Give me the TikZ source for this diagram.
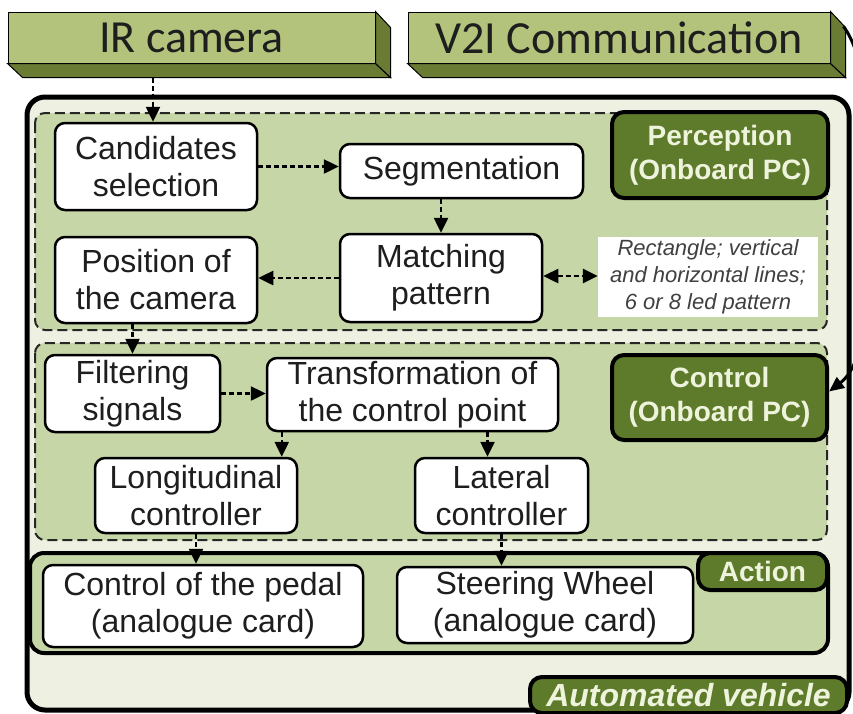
\documentclass[tikz,border=0pt]{standalone}
\usepackage{fontspec}
\setmainfont{Liberation Sans}
\newfontfamily\calib{Carlito}
\usetikzlibrary{arrows.meta}
\definecolor{pale}{HTML}{EEF1E1}
\definecolor{region}{HTML}{C6D6A6}
\definecolor{lbl}{HTML}{5E7A2B}
\definecolor{lbltext}{HTML}{EEF3DC}
\definecolor{frontc}{HTML}{B3C37B}
\definecolor{sidec}{HTML}{6A7B33}
\definecolor{ink}{HTML}{1E1E1E}
\begin{document}
\begin{tikzpicture}[x=1pt,y=-1pt,
  wbox/.style={draw=black, line width=2.5pt, fill=white, rounded corners=10pt,
    align=center, font=\fontsize{32}{37}\selectfont, inner sep=0pt, text=ink},
  lab/.style={draw=black, line width=4pt, fill=lbl, rounded corners=12pt,
    align=center, text=lbltext, font=\fontsize{28}{34}\bfseries\selectfont, inner sep=0pt},
  zone/.style={draw=black!85, line width=2pt, dash pattern=on 10pt off 5pt,
    rounded corners=10pt, fill=region},
  slab/.style={draw=black, line width=1pt, fill=frontc, inner sep=0pt,
    font=\calib\fontsize{46}{50}\selectfont, text=ink},
  slabside/.style={draw=black, line width=1pt, fill=sidec},
  arr/.style={dash pattern=on 5pt off 3pt, line width=2.5pt,
    -{Triangle[length=15pt,width=14pt]}},
  arrtwo/.style={dash pattern=on 5pt off 3pt, line width=2.5pt,
    {Triangle[length=15pt,width=14pt]}-{Triangle[length=15pt,width=14pt]}}
]
\useasboundingbox (0,0) rectangle (853,713);

% top 3D slabs
\node[slab, minimum width=367pt, minimum height=51pt] (ir) at (191.5,37.5) {IR camera};
\draw[slabside] (ir.south west) -- (ir.south east) -- ++(15,14) -- ([shift={(15,14)}]ir.south west) -- cycle;
\draw[slabside] (ir.north east) -- ++(15,16) -- ([shift={(15,14)}]ir.south east) -- (ir.south east) -- cycle;

\node[slab, minimum width=422pt, minimum height=51pt] (v2i) at (619,37.5) {V2I Communication};
\draw[slabside] (v2i.south west) -- (v2i.south east) -- ++(15,14) -- ([shift={(15,14)}]v2i.south west) -- cycle;
\draw[slabside] (v2i.north east) -- ++(15,16) -- ([shift={(15,14)}]v2i.south east) -- (v2i.south east) -- cycle;

% outer vehicle frame
\draw[line width=5pt, rounded corners=18pt, fill=pale] (27,97) rectangle (849,710);

% regions
\draw[zone] (35,113) rectangle (827,330);
\draw[zone] (35,343) rectangle (827,540);
\draw[line width=4pt, rounded corners=14pt, fill=region] (30,553) rectangle (828,653);

% labels
\node[lab, minimum width=216pt, minimum height=86pt] (percl) at (720,155) {Perception\\(Onboard PC)};
\node[lab, minimum width=215pt, minimum height=85pt] (ctrll) at (719.5,397.5) {Control\\(Onboard PC)};
\node[lab, minimum width=129pt, minimum height=37pt, font=\fontsize{28}{32}\bfseries\selectfont] (actl) at (762.5,571.5) {Action};
\node[lab, minimum width=317pt, minimum height=36pt, font=\fontsize{32}{36}\bfseries\itshape\selectfont] (avl) at (688.5,695) {Automated vehicle};

% perception boxes
\node[wbox, minimum width=202pt, minimum height=87pt] (cand) at (156,166.5) {Candidates\\selection};
\node[wbox, minimum width=243pt, minimum height=54pt] (seg) at (461.5,171) {Segmentation};
\node[wbox, minimum width=202pt, minimum height=88pt] (match) at (441,278) {Matching\\pattern};
\node[wbox, minimum width=202pt, minimum height=86pt] (pos) at (156,280) {Position of\\the camera};
\node[fill=white, minimum width=220pt, minimum height=80pt, inner sep=0pt, align=center,
  font=\fontsize{22}{27}\itshape\selectfont, text=ink!85] (note) at (708,277)
  {Rectangle; vertical\\and horizontal lines;\\6 or 8 led pattern};

% control boxes
\node[wbox, minimum width=175pt, minimum height=77pt] (filt) at (132.5,393.5) {Filtering\\signals};
\node[wbox, minimum width=291pt, minimum height=73pt] (trans) at (412.5,394.5) {Transformation of\\the control point};
\node[wbox, minimum width=202pt, minimum height=75pt] (longc) at (196,495.5) {Longitudinal\\controller};
\node[wbox, minimum width=173pt, minimum height=75pt] (latc) at (501.5,495.5) {Lateral\\controller};

% action boxes
\node[wbox, minimum width=320pt, minimum height=82pt] (pedal) at (203,606) {Control of the pedal\\(analogue card)};
\node[wbox, minimum width=296pt, minimum height=76pt] (steer) at (545,605) {Steering Wheel\\(analogue card)};

% helper coordinates
\coordinate (irb) at ([yshift=-14pt]ir.south);
\coordinate (candin) at ([xshift=-3pt]cand.north);
\coordinate (tlo) at ([xshift=16pt]trans.south west);
\coordinate (latin) at ([xshift=-14pt]latc.north);
\coordinate (mre) at ([yshift=2pt]match.east);
\coordinate (v2io) at ([shift={(13,15)}]v2i.north east);
\coordinate (ctin) at ([yshift=6pt]ctrll.east);

% connectors
\draw[arr] (irb -| candin) -- (candin);
\draw[arr] (cand.east) -- (cand.east -| seg.west);
\draw[arr] (seg.south -| match.north) -- (match.north);
\draw[arr] (match.west) -- (match.west -| pos.east);
\draw[arrtwo] (mre) -- (mre -| note.west);
\draw[arr] (pos.south -| filt.north) -- (filt.north);
\draw[arr] (filt.east) -- (filt.east -| trans.west);
\draw[arr] (tlo) -- (tlo |- longc.north);
\draw[arr] (latin |- trans.south) -- (latin);
\draw[arr] (longc.south) -- (longc.south |- pedal.north);
\draw[arr] (latc.south) -- (latc.south |- steer.north);
\draw[line width=3pt, -{Triangle[length=15pt,width=13pt]}]
  (v2io) .. controls (885,80) and (890,345) .. (ctin);
\end{tikzpicture}
\end{document}
